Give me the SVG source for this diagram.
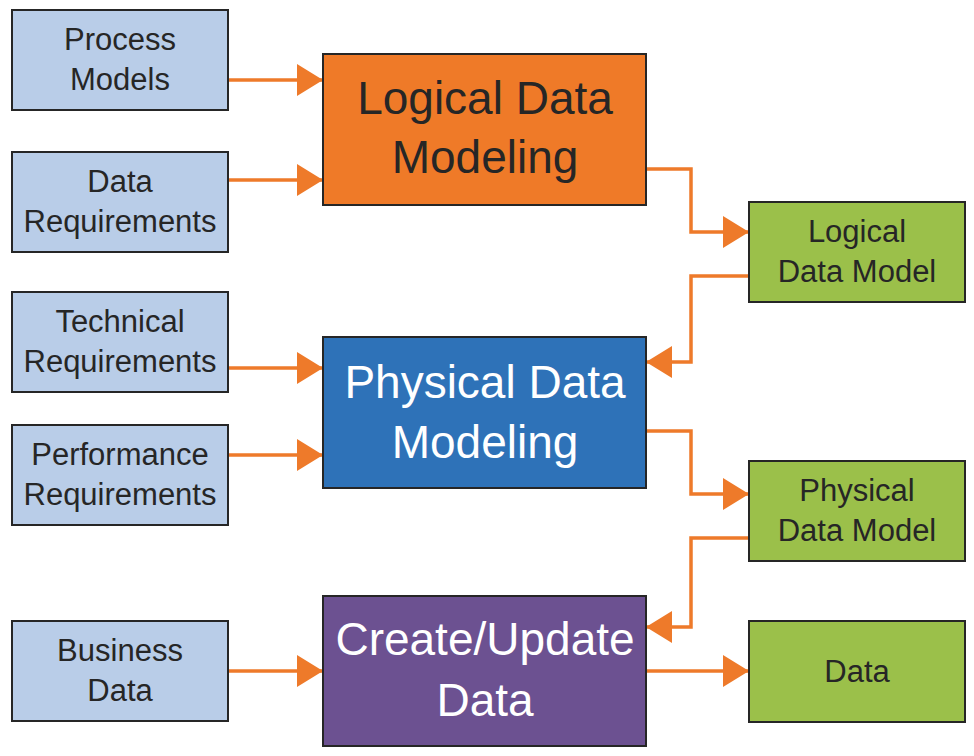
<svg xmlns="http://www.w3.org/2000/svg" width="974" height="756" viewBox="0 0 974 756">
<defs>
<style>
.in{fill:#B9CDE8;stroke:#262626;stroke-width:2}
.out{fill:#9BC04A;stroke:#262626;stroke-width:2}
.big{stroke:#262626;stroke-width:2}
.t{font-family:"Liberation Sans",Arial,sans-serif;font-size:31px;fill:#262626;text-anchor:middle}
.tb{font-family:"Liberation Sans",Arial,sans-serif;font-size:46px;text-anchor:middle}
.c{fill:none;stroke:#EE7A2A;stroke-width:3.5;marker-end:url(#ah)}
</style>
<marker id="ah" viewBox="0 0 26 32" refX="26" refY="16" markerWidth="26" markerHeight="32" markerUnits="userSpaceOnUse" orient="auto">
<path d="M0,0 L26,16 L0,32 z" fill="#EE7A2A"/>
</marker>
</defs>
<rect width="974" height="756" fill="#FFFFFF"/>
<g id="connectors">
<path class="c" d="M228,80 H323"/>
<path class="c" d="M228,180 H323"/>
<path class="c" d="M228,368 H323"/>
<path class="c" d="M228,455 H323"/>
<path class="c" d="M228,671 H323"/>
<path class="c" d="M646,169 H691 V232 H749"/>
<path class="c" d="M749,276 H691 V362 H646"/>
<path class="c" d="M646,431 H691 V494 H749"/>
<path class="c" d="M749,538 H691 V627 H646"/>
<path class="c" d="M646,671 H749"/>
</g>
<g id="process-models">
<rect class="in" x="12" y="10" width="216" height="100"/>
<text class="t" x="120" y="50">Process</text>
<text class="t" x="120" y="90">Models</text>
</g>
<g id="data-requirements">
<rect class="in" x="12" y="152" width="216" height="100"/>
<text class="t" x="120" y="192">Data</text>
<text class="t" x="120" y="232">Requirements</text>
</g>
<g id="technical-requirements">
<rect class="in" x="12" y="292" width="216" height="100"/>
<text class="t" x="120" y="332">Technical</text>
<text class="t" x="120" y="372">Requirements</text>
</g>
<g id="performance-requirements">
<rect class="in" x="12" y="425" width="216" height="100"/>
<text class="t" x="120" y="465">Performance</text>
<text class="t" x="120" y="505">Requirements</text>
</g>
<g id="business-data">
<rect class="in" x="12" y="621" width="216" height="100"/>
<text class="t" x="120" y="661">Business</text>
<text class="t" x="120" y="701">Data</text>
</g>
<g id="logical-data-modeling">
<rect class="big" x="323" y="54" width="323" height="151" fill="#EF7A28"/>
<text class="tb" x="485" y="114" fill="#262626">Logical Data</text>
<text class="tb" x="485" y="173" fill="#262626">Modeling</text>
</g>
<g id="physical-data-modeling">
<rect class="big" x="323" y="337" width="323" height="151" fill="#2E72B8"/>
<text class="tb" x="485" y="398" fill="#FFFFFF">Physical Data</text>
<text class="tb" x="485" y="458" fill="#FFFFFF">Modeling</text>
</g>
<g id="create-update-data">
<rect class="big" x="323" y="596" width="323" height="150" fill="#6C5191"/>
<text class="tb" x="485" y="655" fill="#FFFFFF">Create/Update</text>
<text class="tb" x="485" y="716" fill="#FFFFFF">Data</text>
</g>
<g id="logical-data-model">
<rect class="out" x="749" y="202" width="216" height="100"/>
<text class="t" x="857" y="242">Logical</text>
<text class="t" x="857" y="282">Data Model</text>
</g>
<g id="physical-data-model">
<rect class="out" x="749" y="461" width="216" height="100"/>
<text class="t" x="857" y="501">Physical</text>
<text class="t" x="857" y="541">Data Model</text>
</g>
<g id="data">
<rect class="out" x="749" y="621" width="216" height="101"/>
<text class="t" x="857" y="682">Data</text>
</g>
</svg>
